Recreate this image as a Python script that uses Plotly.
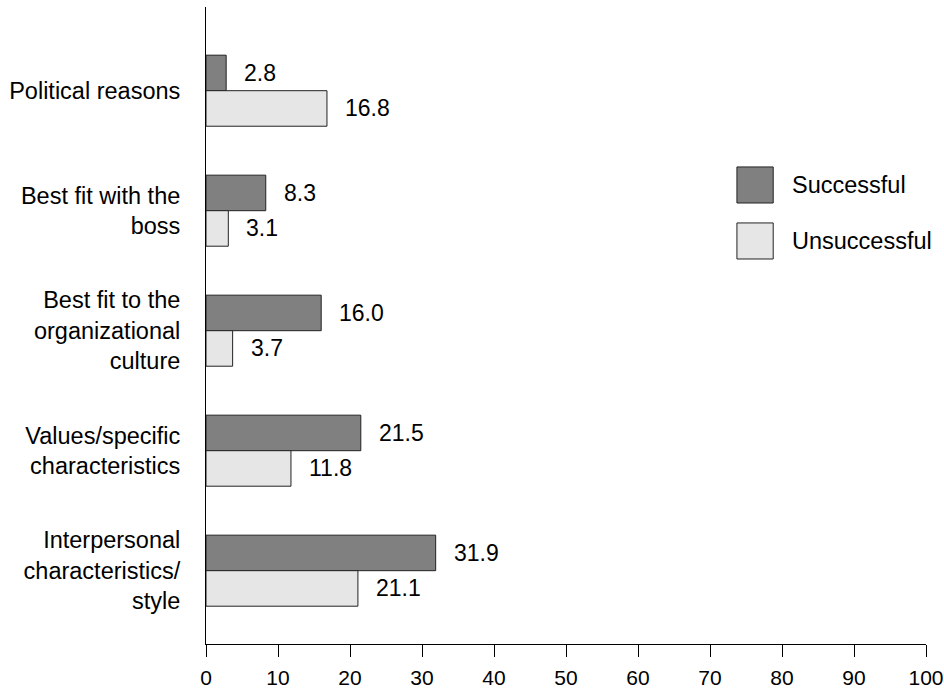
import plotly.graph_objects as go

categories = [
    "Political reasons",
    "Best fit with the<br>boss",
    "Best fit to the<br>organizational<br>culture",
    "Values/specific<br>characteristics",
    "Interpersonal<br>characteristics/<br>style",
]
series_names = ["Successful", "Unsuccessful"]
successful = [2.8, 8.3, 16.0, 21.5, 31.9]
unsuccessful = [16.8, 3.1, 3.7, 11.8, 21.1]
x_ticks = [0, 10, 20, 30, 40, 50, 60, 70, 80, 90, 100]

colors = ["#808080", "#e6e6e6"]
FONT = "Liberation Sans, Arial, Helvetica, sans-serif"

fig = go.Figure()
for name, vals, col in zip(series_names, [successful, unsuccessful], colors):
    fig.add_trace(go.Bar(
        y=categories, x=vals, name=name, orientation="h",
        marker=dict(color=col, line=dict(color="#222222", width=1)),
        showlegend=False, hoverinfo="x+y",
    ))

# value labels
for vals, ysh in [(successful, 17.5), (unsuccessful, -17.5)]:
    for c, v in zip(categories, vals):
        fig.add_annotation(
            x=v, y=c, text=f"{v:.1f}", showarrow=False,
            xanchor="left", yanchor="middle", xshift=16, yshift=ysh,
            font=dict(size=23, color="black", family=FONT),
        )

# legend drawn manually (large swatches)
leg_y = [0.7206, 0.6327]
for name, col, yc in zip(series_names, colors, leg_y):
    fig.add_shape(
        type="rect", xref="paper", yref="paper",
        x0=0.7374, x1=0.7878, y0=yc - 0.0283, y1=yc + 0.0283,
        fillcolor=col, line=dict(color="#222222", width=1),
    )
    fig.add_annotation(
        xref="paper", yref="paper", x=0.8110, y=yc, text=name,
        showarrow=False, xanchor="left", yanchor="middle",
        font=dict(size=23.5, color="black", family=FONT),
    )

fig.update_layout(
    width=944, height=688,
    margin=dict(l=206, r=18, t=7, b=44),
    paper_bgcolor="white", plot_bgcolor="white",
    barmode="group", bargap=0.408, bargroupgap=0,
    font=dict(family=FONT, size=23, color="black"),
    xaxis=dict(
        range=[0, 100], tickvals=x_ticks, ticktext=[str(t) for t in x_ticks],
        showgrid=False, zeroline=False, showline=True, linecolor="black", linewidth=1,
        ticks="outside", ticklen=12, tickcolor="black", tickwidth=1,
        tickfont=dict(size=21, color="black", family=FONT),
        ticklabelstandoff=3,
        automargin=False,
    ),
    yaxis=dict(
        type="category", categoryorder="array", categoryarray=categories,
        range=[4.611, -0.6975],
        showgrid=False, zeroline=False, showline=True, linecolor="black", linewidth=1,
        ticks="", ticklabelstandoff=20,
        tickfont=dict(size=23.5, color="black", family=FONT),
        automargin=False,
    ),
)

fig.write_html(
    "out.html",
    config={"displayModeBar": False},
    post_script="document.body.style.margin='0px';document.body.style.overflow='hidden';",
)
